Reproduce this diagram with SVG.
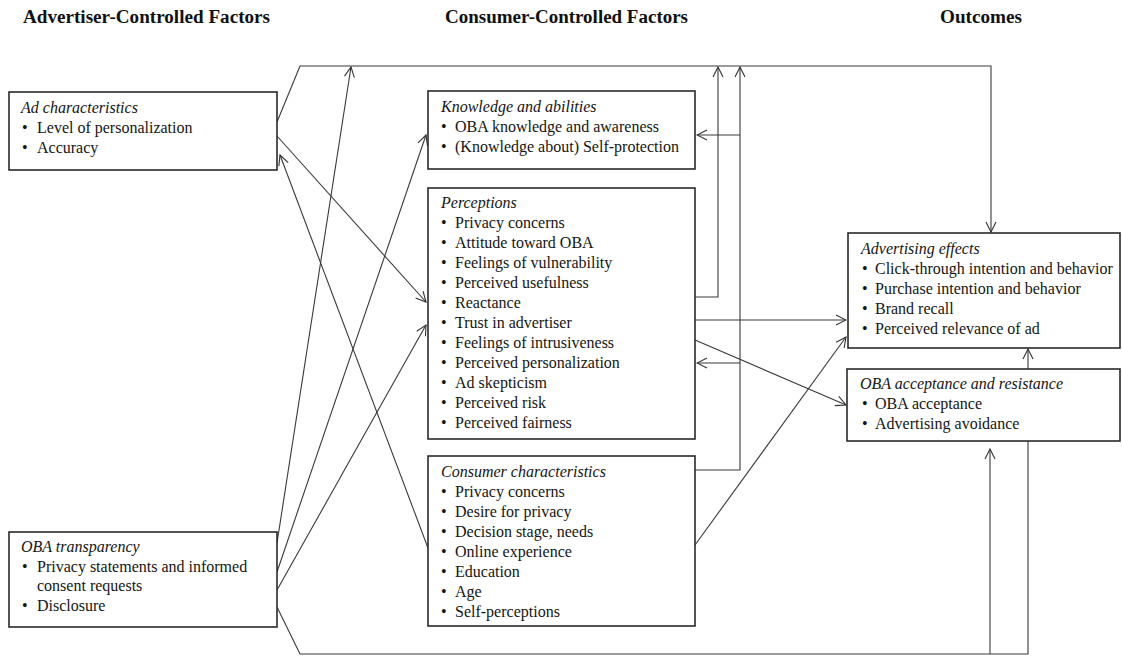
<svg xmlns="http://www.w3.org/2000/svg" width="1122" height="656" viewBox="0 0 1122 656">
<defs>
<marker id="arr" markerUnits="userSpaceOnUse" markerWidth="12" markerHeight="12" refX="11" refY="6" orient="auto" viewBox="0 0 12 12">
<path d="M1,1 L11,6 L1,11" fill="none" stroke="#333" stroke-width="1.1"/>
</marker>
<style>
.box{fill:#fff;stroke:#2a2a2a;stroke-width:1.6}
.hd{font-family:"Liberation Serif","Times New Roman",serif;font-weight:bold;font-size:18px;fill:#111}
.t{font-family:"Liberation Serif","Times New Roman",serif;font-size:16px;fill:#151515}
.ti{font-family:"Liberation Serif","Times New Roman",serif;font-size:16px;font-style:italic;fill:#151515}
.c{fill:none;stroke:#3a3a3a;stroke-width:1.1}
.a{marker-end:url(#arr)}
</style>
</defs>
<rect width="1122" height="656" fill="#fff"/>
<g id="headers">
<text class="hd" x="23" y="23" textLength="247" lengthAdjust="spacingAndGlyphs">Advertiser-Controlled Factors</text>
<text class="hd" x="445" y="23" textLength="243" lengthAdjust="spacingAndGlyphs">Consumer-Controlled Factors</text>
<text class="hd" x="940" y="23" textLength="82" lengthAdjust="spacingAndGlyphs">Outcomes</text>
</g>
<g id="connectors">
<path class="c a" d="M277,122 L300,66 L991,66 L991,232"/>
<path class="c a" d="M277,543 L351,67"/>
<path class="c a" d="M277,572 L426,135"/>
<path class="c a" d="M277,590 L426,325"/>
<path class="c" d="M277,607 L300,654 L1028,654 L1028,441"/>
<path class="c a" d="M990,654 L990,449"/>
<path class="c a" d="M277,136 L426,302"/>
<path class="c a" d="M428,548 L280,155"/>
<path class="c a" d="M695,297 L718,297 L718,67"/>
<path class="c a" d="M695,470 L740,470 L740,67"/>
<path class="c a" d="M740,135 L697,135"/>
<path class="c a" d="M740,363 L697,363"/>
<path class="c a" d="M695,320 L846,320"/>
<path class="c a" d="M695,340 L846,405"/>
<path class="c a" d="M695,545 L846,337"/>
<path class="c a" d="M1028,369 L1028,349"/>
</g>
<g id="ad-characteristics">
<rect class="box" x="9" y="92" width="268" height="78"/>
<text class="ti" x="21" y="113">Ad characteristics</text>
<text class="t" x="22" y="133">•</text><text class="t" x="37" y="133">Level of personalization</text>
<text class="t" x="22" y="153">•</text><text class="t" x="37" y="153">Accuracy</text>
</g>
<g id="oba-transparency">
<rect class="box" x="9" y="532" width="268" height="95"/>
<text class="ti" x="21" y="552">OBA transparency</text>
<text class="t" x="22" y="572">•</text><text class="t" x="37" y="572">Privacy statements and informed</text>
<text class="t" x="37" y="591">consent requests</text>
<text class="t" x="22" y="611">•</text><text class="t" x="37" y="611">Disclosure</text>
</g>
<g id="knowledge">
<rect class="box" x="428" y="91" width="267" height="78"/>
<text class="ti" x="441" y="112">Knowledge and abilities</text>
<text class="t" x="441" y="132">•</text><text class="t" x="455" y="132">OBA knowledge and awareness</text>
<text class="t" x="441" y="152">•</text><text class="t" x="455" y="152">(Knowledge about) Self-protection</text>
</g>
<g id="perceptions">
<rect class="box" x="428" y="188" width="267" height="251"/>
<text class="ti" x="441" y="208">Perceptions</text>
<text class="t" x="441" y="228">•</text><text class="t" x="455" y="228">Privacy concerns</text>
<text class="t" x="441" y="248">•</text><text class="t" x="455" y="248">Attitude toward OBA</text>
<text class="t" x="441" y="268">•</text><text class="t" x="455" y="268">Feelings of vulnerability</text>
<text class="t" x="441" y="288">•</text><text class="t" x="455" y="288">Perceived usefulness</text>
<text class="t" x="441" y="308">•</text><text class="t" x="455" y="308">Reactance</text>
<text class="t" x="441" y="328">•</text><text class="t" x="455" y="328">Trust in advertiser</text>
<text class="t" x="441" y="348">•</text><text class="t" x="455" y="348">Feelings of intrusiveness</text>
<text class="t" x="441" y="368">•</text><text class="t" x="455" y="368">Perceived personalization</text>
<text class="t" x="441" y="388">•</text><text class="t" x="455" y="388">Ad skepticism</text>
<text class="t" x="441" y="408">•</text><text class="t" x="455" y="408">Perceived risk</text>
<text class="t" x="441" y="428">•</text><text class="t" x="455" y="428">Perceived fairness</text>
</g>
<g id="consumer-characteristics">
<rect class="box" x="428" y="456" width="267" height="170"/>
<text class="ti" x="441" y="477">Consumer characteristics</text>
<text class="t" x="441" y="497">•</text><text class="t" x="455" y="497">Privacy concerns</text>
<text class="t" x="441" y="517">•</text><text class="t" x="455" y="517">Desire for privacy</text>
<text class="t" x="441" y="537">•</text><text class="t" x="455" y="537">Decision stage, needs</text>
<text class="t" x="441" y="557">•</text><text class="t" x="455" y="557">Online experience</text>
<text class="t" x="441" y="577">•</text><text class="t" x="455" y="577">Education</text>
<text class="t" x="441" y="597">•</text><text class="t" x="455" y="597">Age</text>
<text class="t" x="441" y="617">•</text><text class="t" x="455" y="617">Self-perceptions</text>
</g>
<g id="advertising-effects">
<rect class="box" x="848" y="233" width="272" height="115"/>
<text class="ti" x="861" y="254">Advertising effects</text>
<text class="t" x="862" y="274">•</text><text class="t" x="875" y="274">Click-through intention and behavior</text>
<text class="t" x="862" y="294">•</text><text class="t" x="875" y="294">Purchase intention and behavior</text>
<text class="t" x="862" y="314">•</text><text class="t" x="875" y="314">Brand recall</text>
<text class="t" x="862" y="334">•</text><text class="t" x="875" y="334">Perceived relevance of ad</text>
</g>
<g id="oba-acceptance">
<rect class="box" x="847" y="369" width="273" height="72"/>
<text class="ti" x="860" y="389">OBA acceptance and resistance</text>
<text class="t" x="862" y="409">•</text><text class="t" x="875" y="409">OBA acceptance</text>
<text class="t" x="862" y="429">•</text><text class="t" x="875" y="429">Advertising avoidance</text>
</g>
</svg>
